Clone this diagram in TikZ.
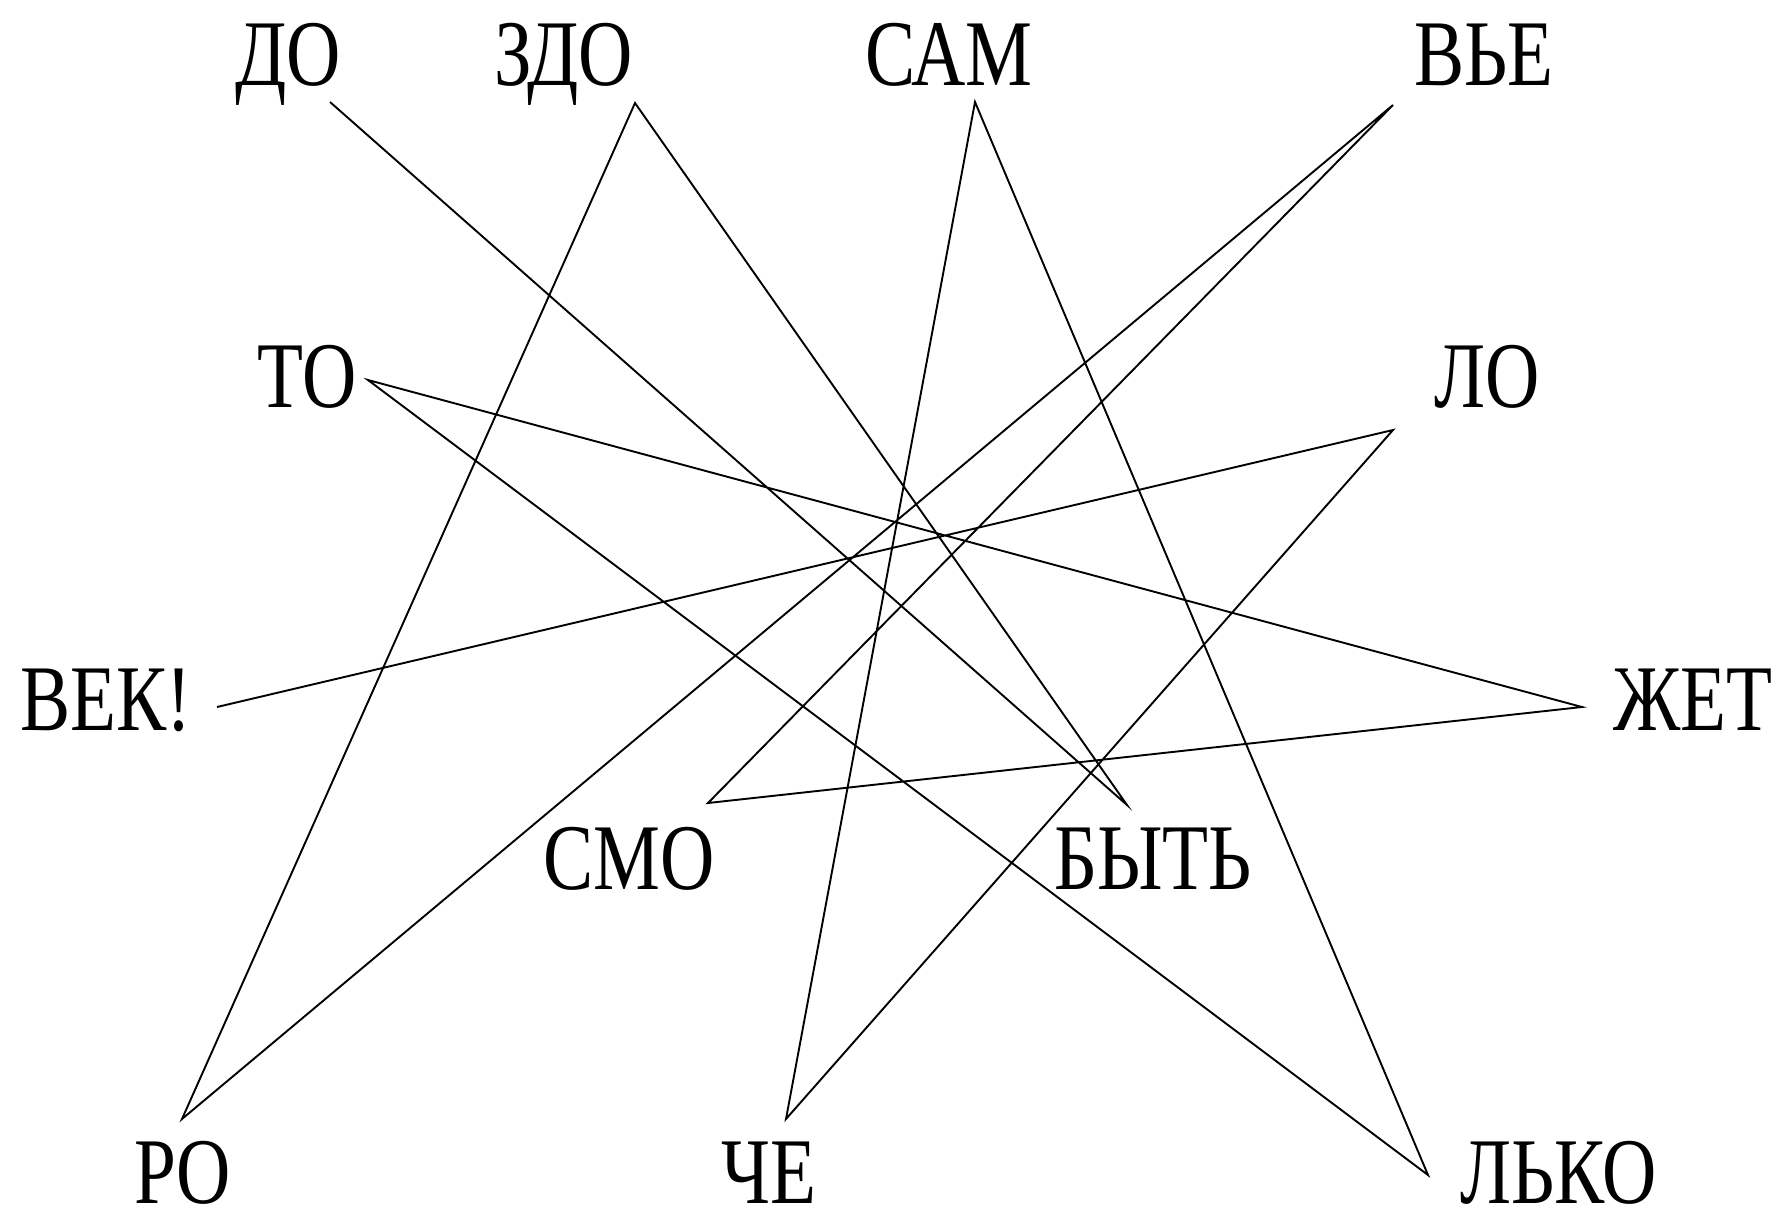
\documentclass[tikz,border=0pt]{standalone}
\usepackage{fontspec}
\setmainfont{Liberation Serif}[FakeStretch=0.8]
\begin{document}
\begin{tikzpicture}[x=1pt,y=-1pt,
  word/.style={anchor=base west,inner sep=0pt,font=\fontsize{94}{100}\selectfont},
  lowword/.style={word,text depth=0pt},
  link/.style={line width=1.9pt,black}]
\useasboundingbox[fill=white] (0,0) rectangle (1781,1215);
% words
\node[word] (do)   at (235,85)   {ДО};
\node[word] (zdo)  at (494,85)   {ЗДО};
\node[word] (sam)  at (865,85)   {САМ};
\node[word] (vye)  at (1414,85)  {ВЬЕ};
\node[word] (to)   at (257,407)  {ТО};
\node[word] (lo)   at (1434,407) {ЛО};
\node[word] (vek)  at (20,730)   {ВЕК!};
\node[word] (zhet) at (1613,730) {ЖЕТ};
\node[word] (smo)  at (543,889)  {СМО};
\node[word] (byt)  at (1054,889) {БЫТЬ};
\node[lowword] (ro)   at (134,1203) {РО};
\node[lowword] (che)  at (721,1203) {ЧЕ};
\node[lowword] (lko)  at (1460,1203){ЛЬКО};
% line ends
\coordinate (pdo)   at (330,102);
\coordinate (pbyt)  at (1127,805);
\coordinate (pzdo)  at (635,103);
\coordinate (pro)   at (182,1119);
\coordinate (pvye)  at (1393,105);
\coordinate (psmo)  at (708,803);
\coordinate (pzhet) at (1582,707);
\coordinate (pto)   at (368,380);
\coordinate (plko)  at (1428,1175);
\coordinate (psam)  at (975,102);
\coordinate (pche)  at (786,1119);
\coordinate (plo)   at (1393,430);
\coordinate (pvek)  at (217,707);
% chain
\draw[link] (pdo) -- (pbyt) -- (pzdo) -- (pro) -- (pvye) -- (psmo) -- (pzhet)
  -- (pto) -- (plko) -- (psam) -- (pche) -- (plo) -- (pvek);
\end{tikzpicture}
\end{document}
